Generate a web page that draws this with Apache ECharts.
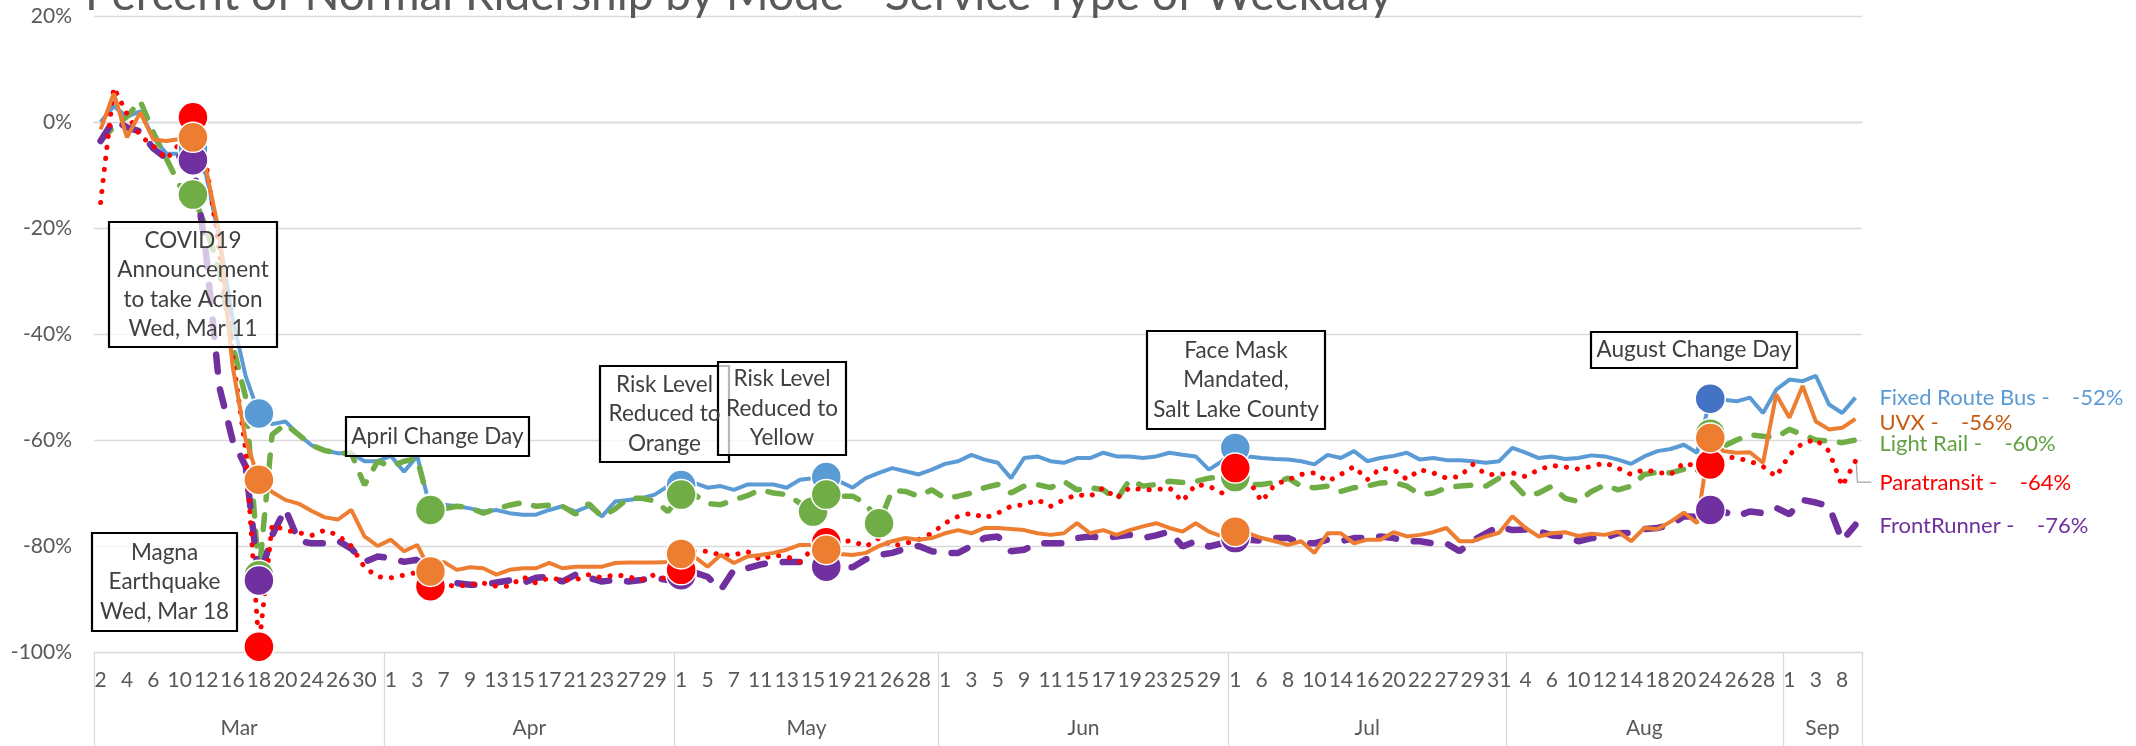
<!DOCTYPE html>
<html>
<head>
<meta charset="utf-8">
<script src="https://cdn.jsdelivr.net/npm/echarts@6/dist/echarts.min.js"></script>
<style>
  html, body { margin: 0; padding: 0; background: #ffffff; }
  #chart { width: 2136px; height: 746px; }
</style>
</head>
<body>
<div id="chart"></div>
<script>
// Weekday service days, grouped by month
const months = ['Mar', 'Apr', 'May', 'Jun', 'Jul', 'Aug', 'Sep'];
const monthDays = [
  [2, 3, 4, 5, 6, 9, 10, 11, 12, 13, 16, 17, 18, 19, 20, 23, 24, 25, 26, 27, 30, 31],
  [1, 2, 3, 6, 7, 8, 9, 10, 13, 14, 15, 16, 17, 20, 21, 22, 23, 24, 27, 28, 29, 30],
  [1, 4, 5, 6, 7, 8, 11, 12, 13, 14, 15, 18, 19, 20, 21, 22, 26, 27, 28, 29],
  [1, 2, 3, 4, 5, 8, 9, 10, 11, 12, 15, 16, 17, 18, 19, 22, 23, 24, 25, 26, 29, 30],
  [1, 2, 6, 7, 8, 9, 10, 13, 14, 15, 16, 17, 20, 21, 22, 23, 27, 28, 29, 30, 31],
  [3, 4, 5, 6, 7, 10, 11, 12, 13, 14, 17, 18, 19, 20, 21, 24, 25, 26, 27, 28, 31],
  [1, 2, 3, 4, 8, 9]
];

// Percent change vs. normal weekday ridership
const fixedRouteBus = [
  0, 3, 1, 2, -3, -6, -6, -5, -10, -22, -37, -48, -55, -57, -56.5, -59, -61, -62, -62.5, -62.5, -64, -64,
  -63, -66, -63, -73, -72.2, -72.5, -72.9, -73.5, -73.2, -73.8, -74.1, -74.1, -73.2, -72.5, -73.5, -72.5, -74.4, -71.6, -71.3, -71, -70.3, -68.7,
  -68.5, -68.1, -69, -68.7, -69.4, -68.4, -68.4, -68.4, -69, -67.5, -67.2, -67, -67.8, -69, -67.2, -66.2, -65.3, -65.9, -66.5, -65.6,
  -64.5, -64, -62.8, -63.7, -64.3, -67.2, -63.4, -63.1, -64, -64.3, -63.4, -63.4, -62.4, -63.1, -63.1, -63.4, -63.1, -62.4, -62.8, -63.1, -65.6, -64,
  -61.5, -63.1, -63.4, -63.6, -63.7, -64, -64.6, -62.8, -63.4, -62.1, -64, -63.4, -63, -62.4, -63.7, -63.4, -63.8, -63.8, -64, -64.3, -64,
  -61.5, -62.4, -63.4, -63.1, -63.6, -63.4, -62.9, -63.1, -63.7, -64.5, -63.1, -62.1, -61.7, -60.9, -62.4, -52.2, -52.4, -52.7, -52, -54.9, -50.5,
  -48.6, -48.9, -47.9, -53.3, -54.9, -52
];
const lightRail = [
  -3.5, -1, 1, 4, -2, -7, -12, -13.7, -20, -28, -42, -52, -85.5, -59, -57, -59, -61, -62, -62.5, -62.5, -68.5, -64,
  -65, -64, -63.5, -73.2, -73, -72.5, -72.8, -73.8, -73, -72.3, -71.8, -72.5, -72.3, -72.5, -74, -72, -74.5, -73, -71, -71, -71.5, -73.5,
  -70.3, -70.3, -72, -72.2, -71.3, -70.5, -69.4, -70, -70.3, -71.9, -73.5, -70.3, -70.6, -70.6, -72, -75.7, -69.5, -69.7, -70.6, -69.4,
  -71, -70.6, -70, -69, -68.4, -70, -68.7, -68.4, -69, -67.8, -69.4, -69, -69.4, -71.3, -67.5, -68.7, -68.4, -67.8, -68, -67.8, -67.2, -66.9,
  -67, -68.4, -68.4, -68, -67.2, -68.7, -69, -68.7, -69.7, -69, -68.7, -68.1, -68, -68.7, -70.3, -70, -69, -68.7, -68.5, -68.7, -67.2,
  -68, -70.6, -70, -68.7, -71, -71.6, -69.7, -68.5, -69.4, -68.7, -66.5, -66.1, -66.2, -65.5, -65.9, -58.8, -61.2, -60, -59, -59.3, -59.5,
  -58, -59, -60, -60.2, -60.5, -60
];
const uvx = [
  -1.4, 5.4, -2.9, 1.8, -3.3, -3.6, -3.2, -2.9, -9, -21, -46, -60, -67.5, -69.8, -71.3, -72, -73.4, -74.6, -75, -73.2, -78.2, -80,
  -78.8, -81, -79.8, -84.8, -83, -84.5, -84, -84.2, -85.4, -84.5, -84.2, -84.2, -83.2, -84.2, -83.9, -83.9, -83.9, -83.2, -83.1, -83.1, -83.1, -83,
  -81.5, -82, -83.9, -81.7, -83.2, -82, -81.7, -81.3, -80.7, -79.8, -79.8, -80.7, -81.5, -81.7, -81.3, -80, -79.1, -78.5, -78.8, -78.5,
  -77.6, -77, -77.6, -76.6, -76.6, -76.8, -77, -77.6, -77.9, -77.6, -75.7, -77.6, -77, -77.9, -77, -76.3, -75.7, -76.6, -77.3, -75.7, -77.3, -78.2,
  -77.3, -77.6, -78.5, -79.1, -79.8, -79.1, -81.3, -77.6, -77.6, -79.5, -78.8, -78.8, -77.4, -78.2, -77.9, -77.4, -76.6, -79.1, -79.1, -78.2, -77.5,
  -74.4, -76.6, -78.2, -77.6, -77.4, -78.1, -77.7, -77.9, -77.3, -79.1, -76.6, -76.8, -75.4, -73.7, -75.7, -59.6, -62.1, -62.4, -62.3, -64.3, -51.4,
  -55.8, -49.8, -56.5, -58, -57.7, -56
];
const paratransit = [
  -15.2, 6.5, 1.5, -2.6, -4.5, -7, -4, 0.9, -8, -24, -44, -62, -99, -76, -77, -77.5, -78, -77, -78, -80, -84, -85.8,
  -86, -85.5, -85, -87.6, -87.3, -87.6, -87.3, -87, -87.6, -87.6, -85.8, -87, -86, -86.4, -86.4, -85.4, -86, -85.4, -85.8, -86.4, -85.4, -86.4,
  -84.5, -81, -81, -81.7, -81.7, -81, -82.6, -81.7, -82, -83, -80.4, -79.3, -79, -79.1, -80.1, -78.5, -80, -79.5, -78.8, -77.6,
  -75.7, -74.4, -73.8, -74.7, -73.8, -72.5, -72.2, -71.3, -72.5, -71.3, -70.3, -70.6, -69, -71, -69, -69.4, -69.4, -69, -71.6, -68.4, -68.7, -70,
  -65.3, -67.5, -71.6, -68.4, -67.5, -66.5, -66.2, -67.8, -66.5, -65, -67.5, -65.3, -65.6, -67.4, -65.6, -66.2, -67.2, -66.9, -64.6, -66.5, -66.5,
  -66.2, -66.9, -65.6, -64.8, -65.1, -65.5, -65, -64.3, -65.3, -66.5, -65.6, -66.1, -66.5, -64.3, -65, -64.6, -63.1, -63.4, -64, -65, -66.9,
  -62.8, -60.6, -59.9, -62.1, -68.7, -64
];
const frontRunner = [
  -3.6, 0.4, -1, -1.8, -5, -6.9, -6.5, -7.2, -25, -50, -60, -65, -86.5, -78, -73, -79, -79.5, -79.5, -79, -80.5, -83, -82,
  -82.3, -83, -82.6, -87, -87, -87, -87.3, -87.3, -86.9, -86.5, -87, -86, -85.8, -86.7, -85.4, -86, -86.7, -86.4, -86.7, -86.4, -86, -86.4,
  -85.5, -85, -85.8, -88.3, -84.5, -84.2, -83.5, -83.1, -83, -83, -84, -83.9, -84, -84, -82.5, -81.7, -81.3, -80.5, -80, -81,
  -81.3, -81.3, -80, -78.5, -78.2, -81, -80.7, -79.5, -79.5, -79.5, -78.5, -78.2, -78.5, -78.2, -77.9, -78.5, -78, -77.3, -80.1, -79.1, -80.1, -79.5,
  -78.5, -78.8, -79, -78.5, -78.5, -79.5, -79.5, -78.8, -79.1, -78.5, -78.5, -78.2, -78.5, -79.1, -79.1, -79.5, -79.5, -81, -79, -77.6, -76.3,
  -77, -76.9, -77.2, -78, -78.2, -79.1, -78.5, -78.5, -77.6, -77.5, -76.8, -76.6, -76, -74.4, -74.5, -73.2, -73.5, -74.4, -73.5, -73.8, -72.8,
  -74, -71.3, -71.8, -72.5, -79, -76
];

// Days marked with a large dot on every line
const eventDays = ['Mar 11', 'Mar 18', 'Apr 6', 'May 1', 'May 18', 'Jul 1', 'Aug 24'];
// Extra dots drawn on the Light Rail line
const lightRailExtraDays = ['May 15', 'May 22'];

const yTicks = [-100, -80, -60, -40, -20, 0, 20];

// ---- derived category data ----
const dayLabels = [];
const dayKeys = [];
monthDays.forEach((days, m) => days.forEach(d => { dayLabels.push(String(d)); dayKeys.push(months[m] + ' ' + d); }));
const N = dayLabels.length;
const idxOf = key => dayKeys.indexOf(key);
const eventIdx = new Set(eventDays.map(idxOf));
const lrExtraIdx = new Set(lightRailExtraDays.map(idxOf));

// month strip: half-category resolution so every month centre lands on a slot
const monthSlots = new Array(2 * N + 1).fill('');
const boundarySlots = new Set([0]);
let start = 0;
monthDays.forEach((days, m) => {
  const end = start + days.length;
  monthSlots[start + end] = months[m];
  boundarySlots.add(2 * end);
  start = end;
});

const FONT = 'Lato, "Liberation Sans", sans-serif';
const GREY = '#595959';

function buildSeries(name, values, color, labelColor, lineStyle, opts) {
  const markers = opts.markers;
  const data = values.map((v, i) => {
    if (i === values.length - 1) {
      return {
        value: v,
        label: {
          show: true, position: 'right', distance: 24,
          offset: [0, opts.labelDy || 0],
          color: labelColor, fontFamily: FONT, fontSize: 22,
          formatter: p => p.seriesName + ' -    ' + Math.round(p.value) + '%'
        }
      };
    }
    if (opts.markerColor && opts.markerColor[i]) {
      return { value: v, itemStyle: { color: opts.markerColor[i] } };
    }
    return v;
  });
  return {
    name, type: 'line', data,
    symbol: 'circle',
    symbolSize: (val, p) => markers.has(p.dataIndex) ? 30 : 0,
    showSymbol: true, showAllSymbol: true,
    itemStyle: { color, borderColor: '#ffffff', borderWidth: 1.5 },
    lineStyle: Object.assign({ color }, lineStyle),
    emphasis: { disabled: true },
    animation: false
  };
}

const chart = echarts.init(document.getElementById('chart'), null, { renderer: 'canvas' });

const idxAug24 = idxOf('Aug 24');
const busMarkerColor = {}; busMarkerColor[idxAug24] = '#4472C4';

const option = {
  backgroundColor: '#ffffff',
  animation: false,
  title: {
    text: 'Percent of Normal Ridership by Mode - Service Type of Weekday',
    left: 80, top: -33,
    textStyle: { fontFamily: FONT, fontSize: 46, fontWeight: 'normal', color: GREY }
  },
  grid: { left: 94, right: 274, top: 16, bottom: 94, containLabel: false },
  xAxis: [
    {
      type: 'category', data: dayLabels, boundaryGap: true,
      axisLine: { lineStyle: { color: '#d9d9d9', width: 1.3 } },
      axisTick: { show: false },
      axisLabel: { interval: 1, margin: 18, color: GREY, fontFamily: FONT, fontSize: 21 },
      splitLine: { show: false }
    },
    {
      type: 'category', data: monthSlots, boundaryGap: false, position: 'bottom',
      axisLine: { show: false },
      axisTick: {
        show: true, length: 94, inside: false,
        interval: idx => boundarySlots.has(idx),
        lineStyle: { color: '#d9d9d9', width: 1.3 }
      },
      axisLabel: { interval: 0, margin: 66, color: GREY, fontFamily: FONT, fontSize: 21 },
      splitLine: { show: false }
    }
  ],
  yAxis: {
    type: 'value', min: yTicks[0], max: yTicks[yTicks.length - 1], interval: 20,
    axisLine: { show: false }, axisTick: { show: false },
    axisLabel: { formatter: '{value}%', margin: 22, color: GREY, fontFamily: FONT, fontSize: 21 },
    splitLine: { lineStyle: { color: '#d9d9d9', width: 1.3 } }
  },
  series: [
    buildSeries('Fixed Route Bus', fixedRouteBus, '#5B9BD5', '#5B9BD5',
      { width: 4, type: 'solid' }, { markers: eventIdx, markerColor: busMarkerColor, labelDy: 0 }),
    buildSeries('Light Rail', lightRail, '#70AD47', '#62A242',
      { width: 5.5, type: [15, 15], cap: 'round' },
      { markers: new Set([...eventIdx, ...lrExtraIdx]), labelDy: 4 }),
    buildSeries('FrontRunner', frontRunner, '#7030A0', '#7030A0',
      { width: 6.5, type: [17, 18], cap: 'round' }, { markers: eventIdx, labelDy: 1 }),
    buildSeries('Paratransit', paratransit, '#FF0000', '#FF0000',
      { width: 5, type: [0.1, 11], cap: 'round' }, { markers: eventIdx, labelDy: 22 }),
    buildSeries('UVX', uvx, '#ED7D31', '#C55A11',
      { width: 4, type: 'solid' }, { markers: eventIdx, labelDy: 4 })
  ]
};
chart.setOption(option);

// ---- annotation boxes ----
const notes = [
  { lines: ['COVID19', 'Announcement', 'to take Action', 'Wed, Mar 11'], x: 109, y: 222, w: 168, h: 125 },
  { lines: ['Magna', 'Earthquake', 'Wed, Mar 18'], x: 92, y: 533, w: 145, h: 98 },
  { lines: ['April Change Day'], x: 346, y: 417, w: 183, h: 39 },
  { lines: ['Risk Level', 'Reduced to', 'Orange'], x: 600, y: 366, w: 129, h: 96 },
  { lines: ['Risk Level', 'Reduced to', 'Yellow'], x: 718, y: 362, w: 128, h: 93 },
  { lines: ['Face Mask', 'Mandated,', 'Salt Lake County'], x: 1147, y: 331, w: 178, h: 98 },
  { lines: ['August Change Day'], x: 1591, y: 332, w: 206, h: 36 }
];
const graphics = [];
notes.forEach(n => {
  graphics.push({
    type: 'rect', z: 100,
    shape: { x: n.x, y: n.y, width: n.w, height: n.h },
    style: { fill: 'rgba(255,255,255,0.72)', stroke: '#000000', lineWidth: 2.2 }
  });
  graphics.push({
    type: 'text', z: 101,
    style: {
      text: n.lines.join('\n'), x: n.x + n.w / 2, y: n.y + n.h / 2,
      align: 'center', verticalAlign: 'middle', lineHeight: 29.5,
      font: '22.5px ' + FONT, fill: '#404040'
    }
  });
});

// leader line from the last Paratransit point to its shifted label
const last = N - 1;
const p = chart.convertToPixel({ xAxisIndex: 0, yAxisIndex: 0 }, [last, paratransit[last]]);
graphics.push({
  type: 'polyline', z: 50,
  shape: { points: [[p[0] + 1, p[1] + 3], [p[0] + 2, p[1] + 21], [p[0] + 16, p[1] + 21]] },
  style: { stroke: '#a6a6a6', lineWidth: 1.3, fill: null }
});
chart.setOption({ graphic: graphics });
</script>
</body>
</html>
